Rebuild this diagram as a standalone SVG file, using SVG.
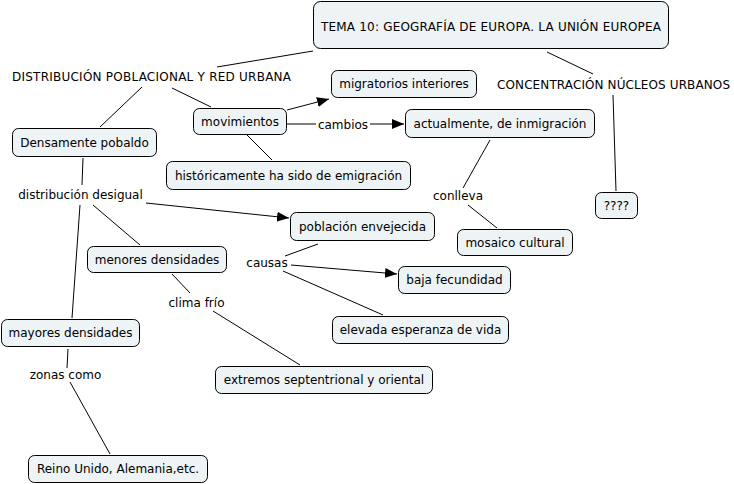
<svg xmlns="http://www.w3.org/2000/svg" width="734" height="484" viewBox="0 0 734 484">
<defs>
<style>
.n rect{fill:#eef3f5;stroke:#000;stroke-width:1;}
text{font-family:"DejaVu Sans",Verdana,sans-serif;font-size:12px;fill:#000;text-anchor:middle;}
.c line{stroke:#000;stroke-width:1;}
.c line.a{marker-end:url(#ah);}
</style>
<marker id="ah" viewBox="0 0 12 10" refX="12" refY="5" markerWidth="12" markerHeight="10" markerUnits="userSpaceOnUse" orient="auto">
<path d="M0,0 L12,5 L0,10 z" fill="#000"/>
</marker>
</defs>
<rect width="734" height="484" fill="#fff"/>
<g class="c" id="connectors">
<line x1="217" y1="67" x2="313" y2="51"/>
<line x1="547" y1="52" x2="593" y2="74"/>
<line x1="142" y1="87" x2="100" y2="127"/>
<line x1="172" y1="88" x2="211" y2="107"/>
<line class="a" x1="287" y1="110" x2="329" y2="99"/>
<line x1="287" y1="124" x2="316" y2="124"/>
<line class="a" x1="370" y1="124" x2="404" y2="124"/>
<line x1="247" y1="135" x2="272" y2="160"/>
<line x1="490" y1="140" x2="463" y2="188"/>
<line x1="468" y1="205" x2="497" y2="228"/>
<line x1="613" y1="95" x2="616" y2="191"/>
<line x1="83" y1="158" x2="82" y2="185"/>
<line class="a" x1="146" y1="203" x2="289" y2="218"/>
<line x1="93" y1="205" x2="140" y2="245"/>
<line x1="80" y1="205" x2="72" y2="318"/>
<line x1="318" y1="244" x2="285" y2="256"/>
<line class="a" x1="291" y1="265" x2="397" y2="274"/>
<line x1="283" y1="271" x2="383" y2="315"/>
<line x1="172" y1="274" x2="190" y2="293"/>
<line x1="213" y1="311" x2="300" y2="365"/>
<line x1="68" y1="349" x2="67" y2="368"/>
<line x1="70" y1="382" x2="110" y2="454"/>
</g>
<g id="labels">
<text x="151.5" y="81" textLength="279" lengthAdjust="spacing">DISTRIBUCIÓN POBLACIONAL Y RED URBANA</text>
<text x="613.5" y="89" textLength="233" lengthAdjust="spacing">CONCENTRACIÓN NÚCLEOS URBANOS</text>
<text x="343" y="129">cambios</text>
<text x="80.5" y="199">distribución desigual</text>
<text x="458" y="200">conlleva</text>
<text x="267" y="267">causas</text>
<text x="196.5" y="307">clima frío</text>
<text x="65.5" y="379">zonas como</text>
</g>
<g class="n" id="n-tema"><rect x="313.5" y="1.5" width="355" height="47" rx="7"/><text x="491" y="31" textLength="340" lengthAdjust="spacing">TEMA 10: GEOGRAFÍA DE EUROPA. LA UNIÓN EUROPEA</text></g>
<g class="n" id="n-migratorios"><rect x="331.5" y="70.5" width="145" height="27" rx="6"/><text x="404" y="88">migratorios interiores</text></g>
<g class="n" id="n-movimientos"><rect x="193.5" y="108.5" width="93" height="26" rx="6"/><text x="240" y="125.5">movimientos</text></g>
<g class="n" id="n-actualmente"><rect x="405.5" y="109.5" width="189" height="28" rx="6"/><text x="500" y="127.5">actualmente, de inmigración</text></g>
<g class="n" id="n-densamente"><rect x="12.5" y="128.5" width="144" height="28" rx="6"/><text x="84.5" y="146.5">Densamente pobaldo</text></g>
<g class="n" id="n-historicamente"><rect x="166.5" y="161.5" width="244" height="28" rx="6"/><text x="288.5" y="179.5">históricamente ha sido de emigración</text></g>
<g class="n" id="n-q"><rect x="595.5" y="192.5" width="42" height="26" rx="6"/><text x="616.5" y="209.5">????</text></g>
<g class="n" id="n-poblacion"><rect x="290.5" y="212.5" width="144" height="28" rx="6"/><text x="362.5" y="230.5">población envejecida</text></g>
<g class="n" id="n-mosaico"><rect x="457.5" y="229.5" width="115" height="26" rx="6"/><text x="515" y="246.5">mosaico cultural</text></g>
<g class="n" id="n-menores"><rect x="87.5" y="246.5" width="139" height="26" rx="6"/><text x="157" y="263.5">menores densidades</text></g>
<g class="n" id="n-baja"><rect x="398.5" y="266.5" width="112" height="27" rx="6"/><text x="454.5" y="284">baja fecundidad</text></g>
<g class="n" id="n-elevada"><rect x="332.5" y="316.5" width="176" height="27" rx="6"/><text x="420.5" y="334">elevada esperanza de vida</text></g>
<g class="n" id="n-mayores"><rect x="1.5" y="319.5" width="138" height="27" rx="6"/><text x="70.5" y="337">mayores densidades</text></g>
<g class="n" id="n-extremos"><rect x="215.5" y="366.5" width="217" height="27" rx="6"/><text x="324" y="384">extremos septentrional y oriental</text></g>
<g class="n" id="n-reino"><rect x="28.5" y="455.5" width="179" height="27" rx="6"/><text x="118" y="473">Reino Unido, Alemania,etc.</text></g>
</svg>
